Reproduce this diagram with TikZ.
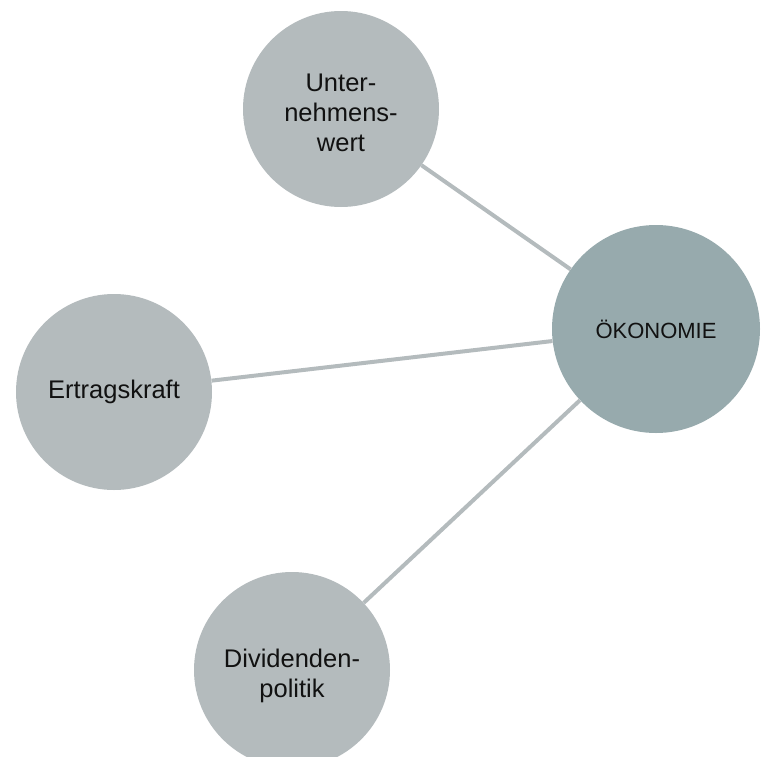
\documentclass[tikz,border=0pt]{standalone}
\usepackage{fontspec}
\setmainfont{Liberation Sans}
\definecolor{bubble}{HTML}{B4BBBD}
\definecolor{hub}{HTML}{97AAAD}
\definecolor{link}{HTML}{B4BBBD}
\definecolor{ink}{HTML}{111111}
\begin{document}
\begin{tikzpicture}[x=1pt,y=-1pt,
  bubblenode/.style={circle,fill=bubble,inner sep=0pt,minimum size=196pt},
  hubnode/.style={circle,fill=hub,inner sep=0pt,minimum size=208pt},
  bigtext/.style={inner sep=0pt,align=center,text=ink,font=\fontsize{25.5}{30}\selectfont},
  hubtext/.style={inner sep=0pt,align=center,text=ink,font=\fontsize{22}{26}\selectfont},
  linkline/.style={draw=link,line width=4pt}]
\clip (0,0) rectangle (766,756);
\useasboundingbox (0,0) rectangle (766,756);
\node[hubnode] (oek) at (656,329) {};
\node[bubblenode] (uw) at (341,109) {};
\node[bubblenode] (ek) at (114,392) {};
\node[bubblenode] (dp) at (292,670) {};
\draw[linkline] (uw) -- (oek);
\draw[linkline] (ek) -- (oek);
\draw[linkline] (dp) -- (oek);
\node[hubtext] (oekt) at (656,329) {ÖKONOMIE};
\node[bigtext] (uwt) at (341,113) {Unter-\\nehmens-\\wert};
\node[bigtext] (ekt) at (114,392) {Ertragskraft};
\node[bigtext] (dpt) at (292,676) {Dividenden-\\politik};
\end{tikzpicture}
\end{document}
